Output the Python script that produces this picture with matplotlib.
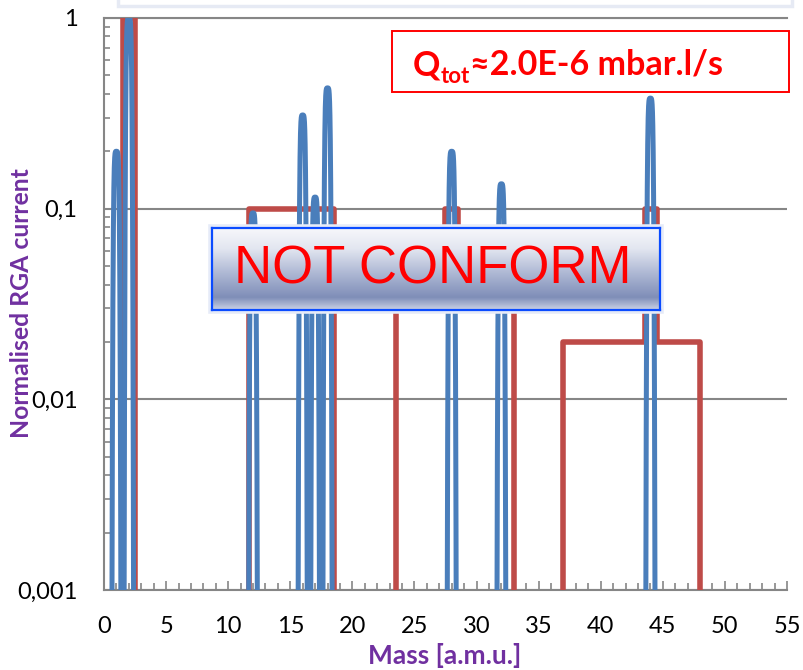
import numpy as np
import matplotlib
matplotlib.use('Agg')
from matplotlib import pyplot as plt
from matplotlib.patches import Rectangle
from matplotlib.transforms import IdentityTransform
from matplotlib.colors import LinearSegmentedColormap
from matplotlib.ticker import FixedLocator, MultipleLocator, LogLocator, NullFormatter

# measured RGA peaks, normalised to the H2 peak
peak_mass = [1, 2, 12, 16, 17, 18, 28, 32, 44]
peak_height = [0.20, 1.0, 0.095, 0.31, 0.115, 0.43, 0.20, 0.135, 0.38]

# acceptance limit bands: start mass, end mass, max normalised current
limit_start = [1.5, 11.7, 23.5, 27.5, 28.5, 37.0, 43.6, 44.5]
limit_end = [2.5, 18.5, 27.5, 28.5, 33.0, 43.6, 44.5, 48.0]
limit_level = [1.0, 0.1, 0.05, 0.1, 0.05, 0.02, 0.1, 0.02]

x_ticks = [0, 5, 10, 15, 20, 25, 30, 35, 40, 45, 50, 55]
y_ticks = [0.001, 0.01, 0.1, 1]
y_tick_labels = ['0,001', '0,01', '0,1', '1']

BLUE = '#4A7EBB'
RED = '#BE4B48'
GRAY = '#868686'
W, H = 804, 670


def fx(px):
    return px / W


def fy(py):
    return 1 - py / H


def peak_profile(mass, height, half_width=0.38, n=301):
    ''' narrow spike drawn like the RGA trace '''
    u = np.linspace(-0.5, 0.5, n)
    logy = np.log10(height) - 3.0 * (np.abs(u) / half_width) ** 4.5
    return mass + u, 10 ** logy


def limit_path(starts, ends, levels, floor=1e-5):
    ''' stepped outline of the limit bands '''
    xs, ys = [], []
    prev_end = None
    for s, e, lv in zip(starts, ends, levels):
        if prev_end is None or not np.isclose(s, prev_end):
            if prev_end is not None:
                xs += [prev_end, np.nan]
                ys += [floor, np.nan]
            xs.append(s)
            ys.append(floor)
        xs += [s, e]
        ys += [lv, lv]
        prev_end = e
    xs.append(prev_end)
    ys.append(floor)
    return xs, ys


plt.rcParams['font.family'] = ['Lato', 'DejaVu Sans']

fig = plt.figure(figsize=(W / 100, H / 100), dpi=100)
ax = fig.add_axes([fx(104), fy(590), fx(787) - fx(104), fy(18) - fy(590)])

# limit (red) then measured spectrum (blue) on top
lx, ly = limit_path(limit_start, limit_end, limit_level)
ax.plot(lx, ly, color=RED, lw=4.0, solid_joinstyle='round', zorder=3)

for m, h in zip(peak_mass, peak_height):
    px, py = peak_profile(m, h)
    ax.plot(px, py, color=BLUE, lw=3.6, solid_capstyle='round', zorder=4)

ax.set_yscale('log')
ax.set_xlim(0, 55)
ax.set_ylim(1e-3, 1)

ax.xaxis.set_major_locator(FixedLocator(x_ticks))
ax.xaxis.set_minor_locator(MultipleLocator(1))
ax.set_xticklabels([str(t) for t in x_ticks])
ax.yaxis.set_major_locator(FixedLocator(y_ticks))
ax.yaxis.set_minor_locator(LogLocator(base=10, subs=np.arange(2, 10)))
ax.yaxis.set_minor_formatter(NullFormatter())
ax.set_yticklabels(y_tick_labels)

ax.tick_params(axis='both', which='both', direction='in', color=GRAY,
               width=1.2, labelsize=17, labelcolor='black', pad=19)
ax.tick_params(axis='x', which='major', length=6.5)
ax.tick_params(axis='x', which='minor', length=5)
ax.tick_params(axis='y', which='both', length=4.5)

ax.grid(axis='y', which='major', color=GRAY, lw=1.5)
ax.set_axisbelow(True)
for side in ['left', 'bottom', 'top']:
    ax.spines[side].set_color(GRAY)
    ax.spines[side].set_linewidth(1.5)
ax.spines['right'].set_visible(False)

fig.text(fx(445), fy(656), 'Mass [a.m.u.]', ha='center', va='center',
         fontsize=19, fontweight='bold', color='#7030A0')
fig.text(fx(22), fy(303), 'Normalised RGA current', ha='center', va='center',
         rotation=90, fontsize=17.8, fontweight='bold', color='#7030A0')

# box cut at the top of the slide
fig.add_artist(Rectangle((fx(118), fy(6)), fx(792) - fx(118), 0.05,
                         transform=fig.transFigure, facecolor='white',
                         edgecolor='#E6EAF4', lw=2.5, zorder=6))

# leak rate box
fig.add_artist(Rectangle((fx(392), fy(92)), fx(789) - fx(392), fy(31) - fy(92),
                         transform=fig.transFigure, facecolor='none',
                         edgecolor='#FF0000', lw=1.4, zorder=6))
base_y = fy(75) * H
q = fig.text(413, base_y, 'Q', ha='left', va='baseline', fontsize=24.5,
             fontweight='bold', color='#FF0000', zorder=7,
             transform=IdentityTransform())
fig.canvas.draw()
rend = fig.canvas.get_renderer()
qb = q.get_window_extent(rend)
sub = fig.text(qb.x1, base_y - 8, 'tot', ha='left', va='baseline', fontsize=16,
               fontweight='bold', color='#FF0000', zorder=7,
               transform=IdentityTransform())
fig.canvas.draw()
sb = sub.get_window_extent(rend)
fig.text(sb.x1, base_y, '\u22482.0E-6 mbar.l/s', ha='left', va='baseline',
         fontsize=24.5, fontweight='bold', color='#FF0000', zorder=7,
         transform=IdentityTransform())

# NOT CONFORM stamp with gradient fill
bx0, bx1, by0, by1 = 212, 660, 228, 310
fig.add_artist(Rectangle((fx(bx0 - 1), fy(by1 + 1)), fx(bx1 - bx0 + 2), fy(0) - fy(by1 - by0 + 2),
                         transform=fig.transFigure, facecolor='none',
                         edgecolor='#E6EBF8', lw=4, zorder=4))
box = fig.add_axes([fx(bx0), fy(by1), fx(bx1) - fx(bx0), fy(by0) - fy(by1)], zorder=5)
grad = LinearSegmentedColormap.from_list(
    'stamp', [(0.0, '#F6F7FB'), (0.25, '#E2E6F0'), (0.55, '#AEB8D4'),
              (0.85, '#7F8EB8'), (1.0, '#C9D0E4')])
box.imshow(np.linspace(0, 1, 100).reshape(-1, 1), aspect='auto', cmap=grad,
           extent=[0, 1, 0, 1], origin='upper')
box.set_xlim(0, 1)
box.set_ylim(0, 1)
box.set_xticks([])
box.set_yticks([])
for sp in box.spines.values():
    sp.set_color('#0A4BFF')
    sp.set_linewidth(1.6)
box.text(0.493, 0.5, 'NOT CONFORM', ha='center', va='center', fontsize=38,
         family='Liberation Sans', color='#FF0000')

fig.savefig('out.png', dpi=100)
